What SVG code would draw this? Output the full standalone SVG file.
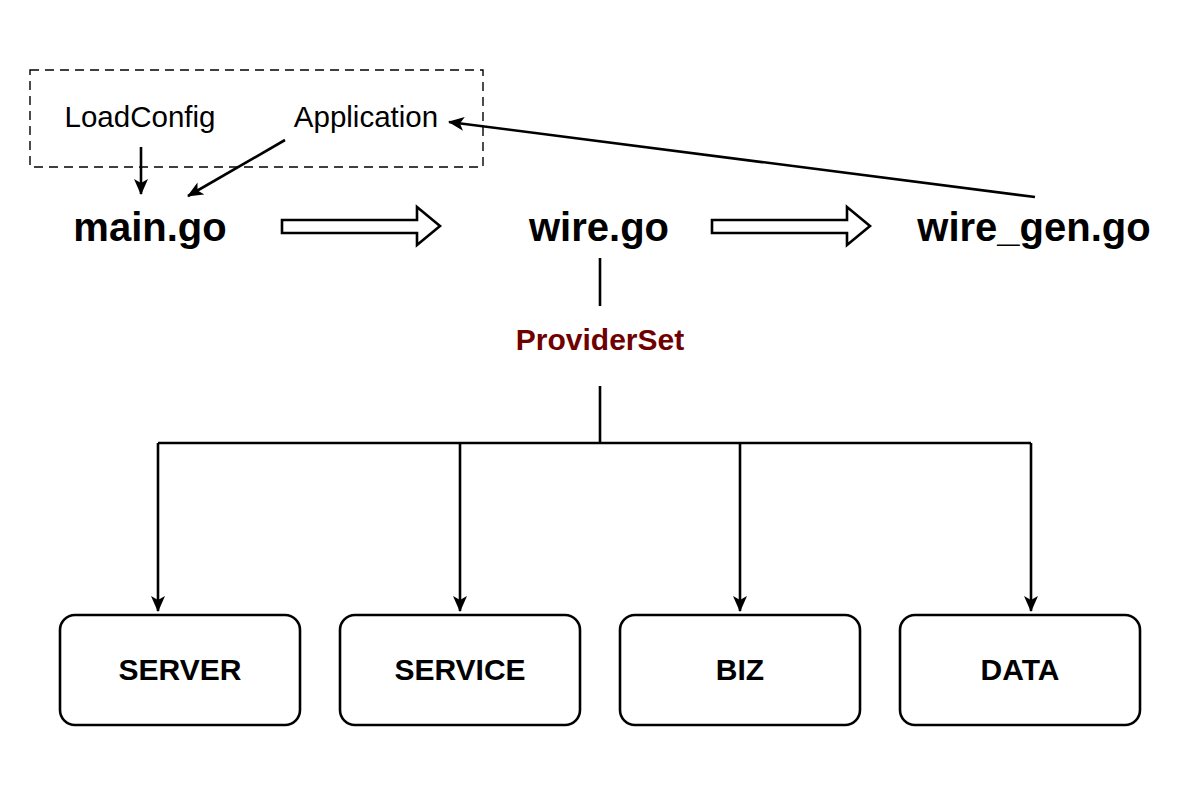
<svg xmlns="http://www.w3.org/2000/svg" width="1200" height="800" viewBox="0 0 1200 800">
<defs>
<style>
.t{font-family:"Liberation Sans",Arial,Helvetica,sans-serif;fill:#000;text-anchor:middle}
.r{font-size:29.5px}
.b{font-size:40px;font-weight:bold}
.bx{font-size:30px;font-weight:bold}
.ln{fill:none;stroke:#000;stroke-width:2.6}
.box{fill:#fff;stroke:#000;stroke-width:2.6}
.fat{fill:#fff;stroke:#000;stroke-width:2.6;stroke-linejoin:miter}
</style>
<marker id="ah" viewBox="0 0 16 14" refX="15" refY="7" markerWidth="16" markerHeight="14" markerUnits="userSpaceOnUse" orient="auto">
<path d="M0,0 L16,7 L0,14 L4,7 Z" fill="#000"/>
</marker>
</defs>
<rect width="1200" height="800" fill="#fff"/>
<g id="group-box">
<rect x="30" y="70" width="453" height="97" fill="none" stroke="#000" stroke-width="1.4" stroke-dasharray="9,6"/>
</g>
<g id="loadconfig"><text class="t r" x="140" y="127">LoadConfig</text></g>
<g id="application"><text class="t r" x="366" y="127">Application</text></g>
<g id="main-go"><text class="t b" x="150" y="241">main.go</text></g>
<g id="wire-go"><text class="t b" x="599" y="241">wire.go</text></g>
<g id="wire-gen-go"><text class="t b" x="1034" y="241">wire_gen.go</text></g>
<g id="providerset"><text class="t" x="600" y="350" style="font-size:30px;font-weight:bold;fill:#6F0000">ProviderSet</text></g>
<g id="server"><rect class="box" x="60" y="615" width="240" height="110" rx="15"/><text class="t bx" x="180" y="680">SERVER</text></g>
<g id="service"><rect class="box" x="340" y="615" width="240" height="110" rx="15"/><text class="t bx" x="460" y="680">SERVICE</text></g>
<g id="biz"><rect class="box" x="620" y="615" width="240" height="110" rx="15"/><text class="t bx" x="740" y="680">BIZ</text></g>
<g id="data"><rect class="box" x="900" y="615" width="240" height="110" rx="15"/><text class="t bx" x="1020" y="680">DATA</text></g>
<g id="connectors">
<line class="ln" x1="141" y1="147" x2="141" y2="194" marker-end="url(#ah)"/>
<line class="ln" x1="285" y1="140" x2="188" y2="196" marker-end="url(#ah)"/>
<line class="ln" x1="1035" y1="197" x2="449" y2="122" marker-end="url(#ah)"/>
<path class="fat" d="M282,220 L417,220 L417,207 L440,226 L417,245 L417,233 L282,233 Z"/>
<path class="fat" d="M712,220 L847,220 L847,207 L870,226 L847,245 L847,233 L712,233 Z"/>
<line class="ln" x1="600" y1="258" x2="600" y2="306"/>
<line class="ln" x1="600" y1="386" x2="600" y2="443"/>
<line class="ln" x1="158" y1="443" x2="1031" y2="443"/>
<line class="ln" x1="158" y1="443" x2="158" y2="611" marker-end="url(#ah)"/>
<line class="ln" x1="460" y1="443" x2="460" y2="611" marker-end="url(#ah)"/>
<line class="ln" x1="740" y1="443" x2="740" y2="611" marker-end="url(#ah)"/>
<line class="ln" x1="1031" y1="443" x2="1031" y2="611" marker-end="url(#ah)"/>
</g>
</svg>
